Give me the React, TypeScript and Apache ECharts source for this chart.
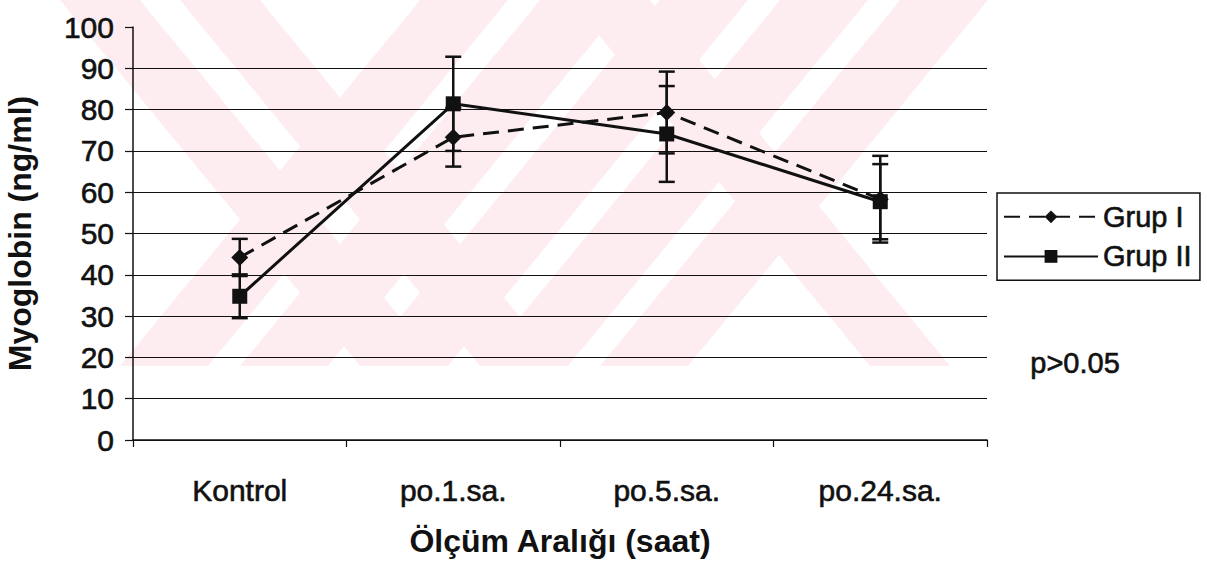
import React, { useEffect, useRef } from 'react';
import * as echarts from 'echarts';

const categories = ['Kontrol', 'po.1.sa.', 'po.5.sa.', 'po.24.sa.'];
const grup1Mean = [44.2, 73.3, 79.3, 58.3];
const grup1Err = [4.5, 7.1, 9.9, 10.5];
const grup2Mean = [34.8, 81.4, 74.1, 57.7];
const grup2Err = [5.3, 11.4, 11.6, 9.1];
const yMin = 0;
const yMax = 100;
const yInterval = 10;

const FONT = "'Liberation Sans', Arial, sans-serif";
const PINK = '#fdedf0';
const INK = '#111';
const thick = { textBorderColor: INK, textBorderWidth: 0.6 };

function watermark() {
  const els: any[] = [];
  const H = 366;
  const dx = 300;
  const wUp = 88;
  [120, 240, 360, 480, 600].forEach((b) => {
    els.push({
      type: 'polygon',
      z: -10,
      silent: true,
      shape: { points: [[b, H], [b + wUp, H], [b + wUp + dx, 0], [b + dx, 0]] },
      style: { fill: PINK },
    });
  });
  const wDown = 80;
  [60, 180, 570].forEach((t) => {
    els.push({
      type: 'polygon',
      z: -10,
      silent: true,
      shape: { points: [[t, 0], [t + wDown, 0], [t + wDown + dx, H], [t + dx, H]] },
      style: { fill: PINK },
    });
  });
  return els;
}

export default function App() {
  const ref = useRef<HTMLDivElement>(null);
  useEffect(() => {
    const chart = echarts.init(ref.current!, null, { renderer: 'svg' });
    const errData = (mean: number[], err: number[]) =>
      mean.map((m, i) => [i, m - err[i], m + err[i]]);
    const renderErr = (_p: any, api: any) => {
      const x = api.value(0);
      const lo = api.coord([x, api.value(1)]);
      const hi = api.coord([x, api.value(2)]);
      const hw = 8;
      const style = { stroke: INK, lineWidth: 2.5 };
      return {
        type: 'group',
        children: [
          { type: 'line', shape: { x1: lo[0], y1: lo[1], x2: hi[0], y2: hi[1] }, style },
          { type: 'line', shape: { x1: lo[0] - hw, y1: lo[1], x2: lo[0] + hw, y2: lo[1] }, style },
          { type: 'line', shape: { x1: hi[0] - hw, y1: hi[1], x2: hi[0] + hw, y2: hi[1] }, style },
        ],
      };
    };
    chart.setOption({
      animation: false,
      backgroundColor: '#ffffff',
      textStyle: { fontFamily: FONT, color: INK },
      grid: { left: 133, right: 220, top: 27, bottom: 121, outerBoundsMode: 'none', containLabel: false },
      graphic: [
        ...watermark(),
        {
          type: 'text',
          left: 1030,
          top: 348,
          style: { text: 'p>0.05', fontSize: 29, fontFamily: FONT, fill: INK, stroke: INK, lineWidth: 0.6 },
        },
      ],
      legend: {
        data: ['Grup I', 'Grup II'],
        orient: 'vertical',
        left: 997,
        top: 193,
        padding: [9, 8, 9, 6],
        itemGap: 10,
        itemWidth: 94,
        itemHeight: 16,
        borderColor: INK,
        borderWidth: 1.5,
        textStyle: { fontSize: 29, fontFamily: FONT, color: INK, ...thick },
      },
      xAxis: {
        type: 'category',
        data: categories,
        boundaryGap: true,
        name: 'Ölçüm Aralığı (saat)',
        nameLocation: 'middle',
        nameGap: 85,
        nameTextStyle: { fontSize: 32, fontWeight: 'bold', fontFamily: FONT, color: INK },
        axisLine: { lineStyle: { color: INK, width: 1.5 } },
        axisTick: { show: true, length: 7, lineStyle: { color: INK, width: 1.2 } },
        axisLabel: { fontSize: 30, margin: 35, color: INK, fontFamily: FONT, ...thick },
        splitLine: { show: false },
      },
      yAxis: {
        type: 'value',
        min: yMin,
        max: yMax,
        interval: yInterval,
        name: 'Myoglobin (ng/ml)',
        nameLocation: 'middle',
        nameGap: 97,
        nameRotate: 90,
        nameTextStyle: { fontSize: 32, fontWeight: 'bold', fontFamily: FONT, color: INK },
        axisLine: { show: true, lineStyle: { color: INK, width: 1.5 } },
        axisTick: { show: true, length: 8, lineStyle: { color: INK, width: 1.2 } },
        axisLabel: { fontSize: 30, margin: 19, color: INK, fontFamily: FONT, ...thick },
        splitLine: { show: true, showMaxLine: false, lineStyle: { color: INK, width: 1.2 } },
      },
      series: [
        {
          name: 'Grup I',
          type: 'line',
          data: grup1Mean,
          symbol: 'diamond',
          symbolSize: 17,
          lineStyle: { color: INK, width: 3, type: [16, 9] },
          itemStyle: { color: INK },
          z: 3,
        },
        {
          name: 'Grup II',
          type: 'line',
          data: grup2Mean,
          symbol: 'rect',
          symbolSize: 15,
          lineStyle: { color: INK, width: 3 },
          itemStyle: { color: INK },
          z: 3,
        },
        {
          name: 'errI',
          type: 'custom',
          data: errData(grup1Mean, grup1Err),
          renderItem: renderErr,
          z: 4,
        },
        {
          name: 'errII',
          type: 'custom',
          data: errData(grup2Mean, grup2Err),
          renderItem: renderErr,
          z: 4,
        },
      ],
    });
    return () => chart.dispose();
  }, []);
  return (
    <div
      ref={ref}
      style={{ position: 'fixed', left: 0, top: 0, width: 1207, height: 561 }}
    />
  );
}
